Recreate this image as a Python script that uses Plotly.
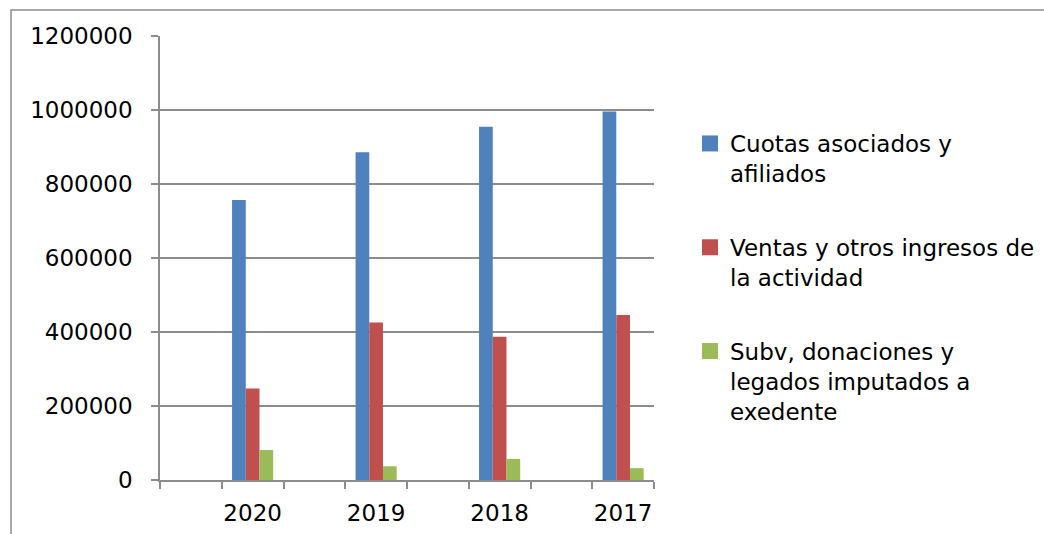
import plotly.graph_objects as go

years = ["2020", "2019", "2018", "2017"]
series_names = [
    "Cuotas asociados y<br>afiliados",
    "Ventas y otros ingresos de<br>la actividad",
    "Subv, donaciones y<br>legados imputados a<br>exedente",
]
cuotas = [757000, 886000, 955000, 996000]
ventas = [247000, 426000, 387000, 446000]
subv = [81000, 37000, 57000, 32000]
colors = ["#4F81BD", "#C0504D", "#9BBB59"]
y_ticks = [0, 200000, 400000, 600000, 800000, 1000000, 1200000]

# each year sits in every second slot of an 8-slot category axis
slot_pos = [1, 3, 5, 7]
bar_w = 0.222
offsets = [-0.333, -0.111, 0.111]

fig = go.Figure()
for i, (name, vals) in enumerate(zip(series_names, [cuotas, ventas, subv])):
    fig.add_trace(go.Bar(
        x=slot_pos, y=vals, name=name,
        width=bar_w, offset=offsets[i],
        marker=dict(color=colors[i], line=dict(width=0)),
        legendgroup=f"g{i}", showlegend=False,
    ))
    # legend-only entry with a larger square swatch
    fig.add_trace(go.Scatter(
        x=[None], y=[None], mode="markers", name=name,
        marker=dict(symbol="square", size=16, color=colors[i]),
        legendgroup=f"g{i}", showlegend=True, hoverinfo="skip",
    ))

grid_col = "#8C8C8C"
font_family = "DejaVu Sans"

fig.update_layout(
    width=1044, height=534,
    margin=dict(l=160, r=390, t=36, b=54, autoexpand=False),
    paper_bgcolor="white", plot_bgcolor="white",
    barmode="overlay",
    font=dict(family=font_family, size=23, color="black"),
    showlegend=True,
    legend=dict(
        x=(690 - 160) / 494, y=(480 - 122) / 444,
        xanchor="left", yanchor="top",
        font=dict(family=font_family, size=23, color="black"),
        traceorder="grouped", tracegroupgap=41, valign="top",
        itemwidth=30, itemsizing="trace", bgcolor="rgba(0,0,0,0)",
    ),
    xaxis=dict(
        range=[-0.5, 7.5], automargin=False,
        tickmode="array", tickvals=slot_pos, ticktext=years,
        ticks="", showgrid=False,
        showline=True, linecolor=grid_col, linewidth=1.5,
        zeroline=False, ticklabelstandoff=12,
        minor=dict(tickmode="linear", tick0=-0.5, dtick=1,
                   ticks="outside", ticklen=7, tickwidth=1.5,
                   tickcolor=grid_col, showgrid=False),
        tickfont=dict(size=23),
    ),
    yaxis=dict(
        range=[0, 1200000], automargin=False,
        tickmode="array", tickvals=y_ticks, ticktext=[str(v) for v in y_ticks],
        showgrid=True, gridcolor=grid_col, gridwidth=1.5,
        ticks="outside", ticklen=7, tickwidth=1.5, tickcolor=grid_col,
        showline=True, linecolor=grid_col, linewidth=1.5,
        zeroline=False, ticklabelstandoff=14,
        tickfont=dict(size=23),
    ),
    shapes=[dict(
        type="rect", xref="paper", yref="paper",
        x0=(11 - 160) / 494, x1=3, y0=-1, y1=(480 - 10) / 444,
        line=dict(color=grid_col, width=1.5), fillcolor="rgba(0,0,0,0)",
        layer="below",
    )],
)

fig.write_html("out.html", config={"displayModeBar": False},
               post_script="document.body.style.margin='0';")
